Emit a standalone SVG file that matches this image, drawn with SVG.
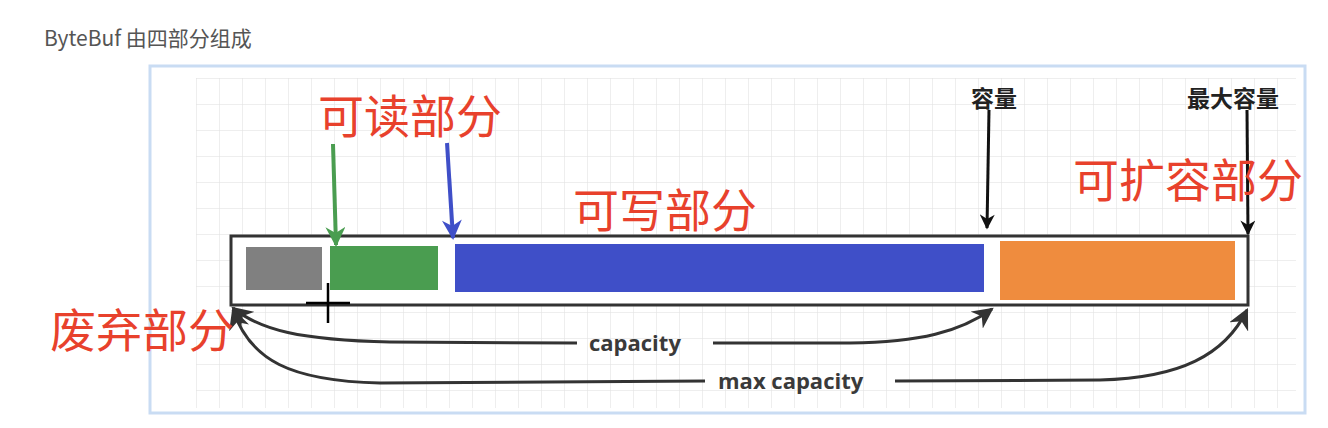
<svg xmlns="http://www.w3.org/2000/svg" width="1328" height="428" viewBox="0 0 1328 428">
<style>
.red{font-family:"Noto Sans CJK SC","Noto Sans",sans-serif;font-size:46px;fill:#e8412c}
.blk{font-family:"Noto Sans CJK SC",sans-serif;font-size:23px;font-weight:bold;fill:#222}
.lab{font-family:"Open Sans","Noto Sans",sans-serif;font-size:22px;font-weight:bold;fill:#3a3a3a}
.ln{fill:none;stroke:#333;stroke-width:3}
</style>
<defs>
<pattern id="grid" width="23" height="26" patternUnits="userSpaceOnUse" x="196" y="78">
<path d="M0 0H23M0 0V26" fill="none" stroke="#dedede" stroke-width="1"/>
</pattern>
<marker id="ah" viewBox="0 0 10 10" refX="9" refY="5" markerWidth="7" markerHeight="7" orient="auto" markerUnits="strokeWidth"><path d="M0 0L10 5L0 10L3 5Z" fill="#333"/></marker>
<marker id="ag" viewBox="0 0 10 10" refX="9" refY="5" markerWidth="6" markerHeight="5" orient="auto" markerUnits="strokeWidth"><path d="M0 0L10 5L0 10L3 5Z" fill="#4a9d50"/></marker>
<marker id="ab" viewBox="0 0 10 10" refX="9" refY="5" markerWidth="6" markerHeight="5" orient="auto" markerUnits="strokeWidth"><path d="M0 0L10 5L0 10L3 5Z" fill="#3f4fc8"/></marker>
<marker id="ak" viewBox="0 0 10 10" refX="9" refY="5" markerWidth="7" markerHeight="5" orient="auto" markerUnits="strokeWidth"><path d="M0 0L10 5L0 10L3 5Z" fill="#111"/></marker>
</defs>
<rect width="1328" height="428" fill="#fff"/>
<text x="44" y="46" style="font-family:'Noto Sans CJK SC',sans-serif;font-size:21px;fill:#555">ByteBuf 由四部分组成</text>
<rect x="150" y="66" width="1155" height="347" fill="#fff" stroke="#c9dcf3" stroke-width="3"/>
<rect x="196" y="78" width="1100" height="330" fill="url(#grid)"/>
<g id="buffer">
<rect x="231" y="236" width="1017" height="69" fill="#fff" stroke="#333" stroke-width="3"/>
</g>
<g id="discard"><rect x="246" y="247" width="76" height="43" fill="#808080"/></g>
<g id="readable"><rect x="330" y="246" width="108" height="44" fill="#4a9d50"/></g>
<g id="writable"><rect x="455" y="244" width="529" height="48" fill="#3f4fc8"/></g>
<g id="expand"><rect x="1000" y="241" width="235" height="59" fill="#ef8c3e"/></g>
<g id="connectors">
<line x1="333" y1="144" x2="336" y2="245" stroke="#4a9d50" stroke-width="4" marker-end="url(#ag)"/>
<line x1="447" y1="143" x2="453" y2="238" stroke="#3f4fc8" stroke-width="4" marker-end="url(#ab)"/>
<line x1="989" y1="110" x2="987" y2="228" stroke="#111" stroke-width="3" marker-end="url(#ak)"/>
<line x1="1247" y1="110" x2="1248" y2="234" stroke="#111" stroke-width="3" marker-end="url(#ak)"/>
<path class="ln" d="M577 343 L390 342 C300 340 260 330 233 308" marker-end="url(#ah)"/>
<path class="ln" d="M713 343 L850 343 C920 342 960 332 992 309" marker-end="url(#ah)"/>
<path class="ln" d="M705 381 L380 383 C290 381 250 360 233 310" marker-end="url(#ah)"/>
<path class="ln" d="M895 381 L1100 380 C1180 378 1225 355 1247 310" marker-end="url(#ah)"/>
</g>
<g id="cursor" stroke="#000" stroke-width="2.5"><line x1="328" y1="283" x2="328" y2="323"/><line x1="306" y1="303" x2="350" y2="303"/></g>
<text class="red" x="318" y="133">可读部分</text>
<text class="red" x="573" y="227">可写部分</text>
<text class="red" x="1073" y="197">可扩容部分</text>
<text class="red" x="50" y="347">废弃部分</text>
<text class="blk" x="971" y="107">容量</text>
<text class="blk" x="1187" y="107">最大容量</text>
<text class="lab" x="589" y="351">capacity</text>
<text class="lab" x="718" y="389">max capacity</text>
</svg>
